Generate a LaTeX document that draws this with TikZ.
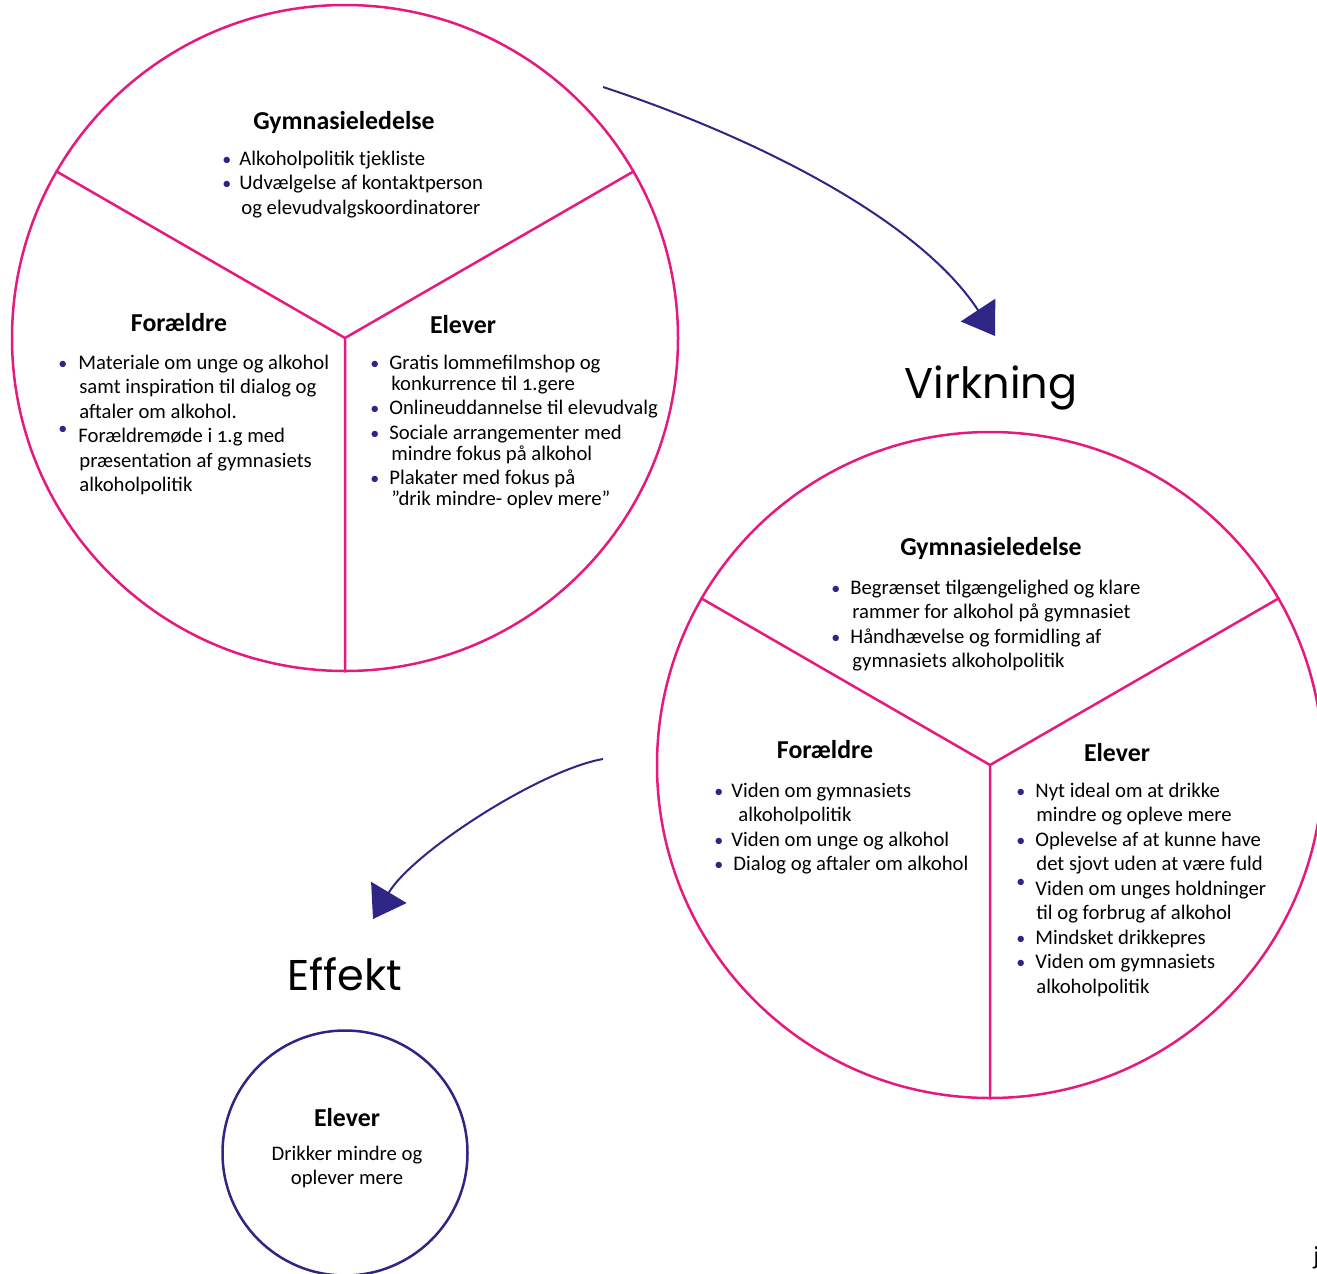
\documentclass[tikz,border=0pt]{standalone}
\usepackage{fontspec}
\setmainfont{Carlito}[Numbers=OldStyle]
\newfontfamily\titlefont{Poppins}
\usetikzlibrary{arrows.meta}
\definecolor{pinkline}{HTML}{E5197E}
\definecolor{lilla}{HTML}{2E2585}
\newcommand\dotb[2][0pt]{\makebox[#2][l]{\raisebox{#1}{\textcolor{lilla}{\small\textbullet}}}}

\begin{document}
\begin{tikzpicture}[x=0.5pt,y=-0.5pt]
\tikzset{ring/.style ={circle,draw=pinkline,line width=1.25pt,minimum size=333pt,inner sep=0pt}}
\tikzset{head/.style ={font=\fontsize{12.9}{15}\selectfont\bfseries,inner sep=0pt,anchor=base}}
\tikzset{txt/.style ={font=\fontsize{10.35}{12.25}\selectfont,inner sep=0pt,anchor=base west}}
\tikzset{bigtitle/.style ={font=\titlefont\fontsize{21.5}{26}\selectfont,inner sep=0pt,anchor=base}}
\tikzset{flow/.style ={draw=lilla,line width=1pt,-{Triangle[length=15.5pt,width=20.5pt]}}}
\clip (0,0) rectangle (1317,1274);
% aktiviteter
\node[ring] (c1) at (345,338) {};
\draw[pinkline,line width=1.25pt] (c1.150) -- (c1.center) -- (c1.30) (c1.center) -- (c1.-90);
\node[head] (gym1) at (344,129) {Gymnasieledelse};
\node[txt] (gym1l) at (222,165) {\begin{tabular}[t]{@{}l@{}}
\dotb{8.5pt}Alkoholpolitik tjekliste\\
\dotb{8.5pt}Udvælgelse af kontaktperson\\
\hspace{9.5pt}og elevudvalgskoordinatorer
\end{tabular}};
\node[head] (for1) at (179,331) {Forældre};
\node[txt] (for1l) at (58,369) {\begin{tabular}[t]{@{}l@{}}
\dotb{10pt}Materiale om unge og alkohol\\
\hspace{10.5pt}samt inspiration til dialog og\\
\hspace{10.5pt}aftaler om alkohol.\\
\dotb[4pt]{10pt}Forældremøde i 1.g med\\
\hspace{10.5pt}præsentation af gymnasiets\\
\hspace{10.5pt}alkoholpolitik
\end{tabular}};
\node[head] (elv1) at (463,333) {Elever};
\node[txt,font=\fontsize{10.35}{10.5}\selectfont] (elv1l) at (370,369) {\begin{tabular}[t]{@{}l@{}}
\dotb{9.5pt}Gratis lommefilmshop og\\
\hspace{10.5pt}konkurrence til 1.gere\\[1.75pt]
\dotb{9.5pt}Onlineuddannelse til elevudvalg\\[1.75pt]
\dotb{9.5pt}Sociale arrangementer med\\
\hspace{10.5pt}mindre fokus på alkohol\\[1.75pt]
\dotb{9.5pt}Plakater med fokus på\\
\hspace{10.5pt}”drik mindre- oplev mere”
\end{tabular}};
% virkning
\node[bigtitle] (virk) at (991,398) {Virkning};
\node[ring] (c2) at (990,765) {};
\draw[pinkline,line width=1.25pt] (c2.150) -- (c2.center) -- (c2.30) (c2.center) -- (c2.-90);
\node[head] (gym2) at (991,555) {Gymnasieledelse};
\node[txt] (gym2l) at (831,594) {\begin{tabular}[t]{@{}l@{}}
\dotb{9.5pt}Begrænset tilgængelighed og klare\\
\hspace{10.5pt}rammer for alkohol på gymnasiet\\
\dotb{9.5pt}Håndhævelse og formidling af\\
\hspace{10.5pt}gymnasiets alkoholpolitik
\end{tabular}};
\node[head] (for2) at (825,758) {Forældre};
\node[txt] (for2l) at (714,797) {\begin{tabular}[t]{@{}l@{}}
\dotb{8.5pt}Viden om gymnasiets\\
\hspace{12pt}alkoholpolitik\\
\dotb{8.5pt}Viden om unge og alkohol\\
\dotb{9.5pt}Dialog og aftaler om alkohol
\end{tabular}};
\node[head] (elv2) at (1117,761) {Elever};
\node[txt] (elv2l) at (1016,797) {\begin{tabular}[t]{@{}l@{}}
\dotb{9.5pt}Nyt ideal om at drikke\\
\hspace{10pt}mindre og opleve mere\\
\dotb{9.5pt}Oplevelse af at kunne have\\
\hspace{10pt}det sjovt uden at være fuld\\
\dotb[4pt]{9.5pt}Viden om unges holdninger\\
\hspace{10pt}til og forbrug af alkohol\\
\dotb{9.5pt}Mindsket drikkepres\\
\dotb{9.5pt}Viden om gymnasiets\\
\hspace{10pt}alkoholpolitik
\end{tabular}};
% effekt
\node[bigtitle] (eff) at (345,990) {Effekt};
\node[ring,draw=lilla,minimum size=122.5pt] (c3) at (345,1153) {};
\node[head] (elv3) at (347,1126) {Elever};
\node[txt,anchor=base] (elv3l) at (347,1160) {\begin{tabular}[t]{@{}c@{}}
Drikker mindre og\\
oplever mere
\end{tabular}};
\node[txt,font=\fontsize{13}{15}\selectfont] (jj) at (1313,1264) {j};
% pile
\coordinate (a1s) at (603,87);
\coordinate (a1e) at (995,336);
\coordinate (a2s) at (603,759);
\coordinate (a2e) at (373,919);
\draw[flow] (a1s) .. controls (740,132) and (915,214) .. (a1e);
\draw[flow] (a2s) .. controls (540,770) and (413,852) .. (a2e);
\end{tikzpicture}
\end{document}
